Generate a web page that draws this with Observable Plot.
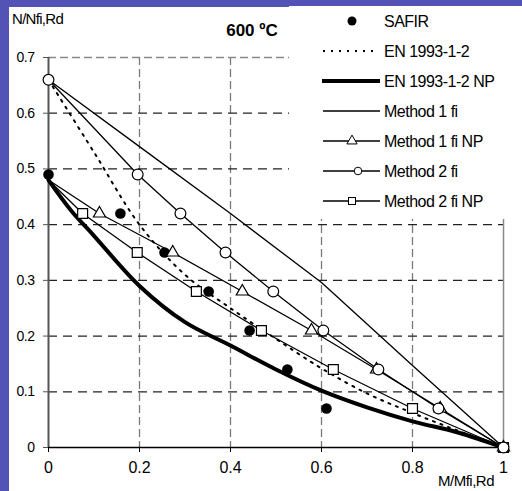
<!DOCTYPE html>
<html><head><meta charset="utf-8">
<script src="https://cdn.jsdelivr.net/npm/d3@7"></script>
<script src="https://cdn.jsdelivr.net/npm/@observablehq/plot@0.6"></script>
<style>
html,body{margin:0;padding:0;background:#5353b5;width:522px;height:491px;overflow:hidden;}
#frame{position:absolute;left:9px;top:7px;width:513px;height:484px;background:#fff;}
#chart{position:absolute;left:0;top:0;}
</style></head><body>
<div id="frame"></div><div id="chart"></div>
<script>
// ---- data ----
const xTicks = [0, 0.2, 0.4, 0.6, 0.8, 1];
const xTickLabels = ["0", "0.2", "0.4", "0.6", "0.8", "1"];
const yTicks = [0, 0.1, 0.2, 0.3, 0.4, 0.5, 0.6, 0.7];
const yTickLabels = ["0", "0.1", "0.2", "0.3", "0.4", "0.5", "0.6", "0.7"];
const seriesNames = ["SAFIR", "EN 1993-1-2", "EN 1993-1-2 NP", "Method 1 fi", "Method 1 fi NP", "Method 2 fi", "Method 2 fi NP"];
const titleText = "600 ºC";
const yLabel = "N/Nfi,Rd";
const xLabel = "M/Mfi,Rd";

const safirX = [0, 0.158, 0.255, 0.352, 0.442, 0.525, 0.611];
const safirY = [0.49, 0.42, 0.35, 0.28, 0.21, 0.14, 0.07];

const enX = [0, 0.1, 0.2, 0.3, 0.4, 0.5, 0.6, 0.7, 0.8, 0.9, 1];
const enY = [0.66, 0.53, 0.40, 0.31, 0.25, 0.195, 0.142, 0.097, 0.062, 0.03, 0];

const enNpX = [0, 0.05, 0.1, 0.2, 0.3, 0.4, 0.5, 0.6, 0.7, 0.8, 0.9, 1];
const enNpY = [0.48, 0.425, 0.38, 0.29, 0.225, 0.183, 0.14, 0.102, 0.072, 0.047, 0.027, 0];

const m1X = [0, 0.2, 0.4, 0.6, 0.8, 1];
const m1Y = [0.66, 0.54, 0.42, 0.296, 0.147, 0];

const m1npX = [0, 0.112, 0.273, 0.426, 0.578, 0.721, 0.861, 1];
const m1npY = [0.48, 0.42, 0.35, 0.28, 0.21, 0.14, 0.07, 0];

const m2X = [0, 0.196, 0.29, 0.389, 0.494, 0.604, 0.725, 0.857, 1];
const m2Y = [0.66, 0.49, 0.42, 0.35, 0.28, 0.21, 0.14, 0.07, 0];

const m2npX = [0, 0.075, 0.195, 0.325, 0.468, 0.626, 0.8, 1];
const m2npY = [0.48, 0.42, 0.35, 0.28, 0.21, 0.14, 0.07, 0];

// ---- build ----
const rows = (xs, ys) => xs.map((x, i) => ({x, y: ys[i]}));
const safir = rows(safirX, safirY);
const en = rows(enX, enY);
const enNp = rows(enNpX, enNpY);
const m1 = rows(m1X, m1Y);
const m1np = rows(m1npX, m1npY);
const m2 = rows(m2X, m2Y);
const m2np = rows(m2npX, m2npY);

const FONT = "'Liberation Sans', Arial, sans-serif";
const thin = {x: "x", y: "y", stroke: "#000", strokeWidth: 1.3};

const plot = Plot.plot({
  width: 522, height: 491,
  marginTop: 57, marginRight: 19, marginBottom: 44, marginLeft: 48,
  x: {domain: [0, 1]},
  y: {domain: [0, 0.7]},
  style: {background: "transparent", fontFamily: FONT, color: "#000"},
  marks: [
    Plot.gridX(xTicks.filter(v => v > 0 && v < 1), {stroke: "#7a7a7a", strokeOpacity: 1, strokeDasharray: "8,4", strokeWidth: 1.3}),
    Plot.gridY(yTicks.filter(v => v > 0 && v < 0.7), {stroke: "#222", strokeOpacity: 1, strokeDasharray: "9,6", strokeWidth: 1.2}),
    Plot.gridY([0.7], {stroke: "#888", strokeOpacity: 1, strokeDasharray: "8,4", strokeWidth: 1.3}),
    Plot.ruleX([1], {stroke: "#8a8a8a", strokeWidth: 1.5}),
    Plot.ruleX([0], {stroke: "#555", strokeWidth: 2}),
    Plot.ruleY([0], {stroke: "#000", strokeWidth: 1.5}),
    Plot.axisX({ticks: xTicks, tickFormat: d => xTickLabels[xTicks.indexOf(d)], tickSize: 5, tickPadding: 9, fontSize: 16, stroke: "#000", label: null}),
    Plot.axisY({ticks: yTicks, tickFormat: d => yTickLabels[yTicks.indexOf(d)], tickSize: 5, tickPadding: 9, fontSize: 14, stroke: "#555", label: null}),
    Plot.line(m1, thin),
    Plot.line(m1np, thin),
    Plot.line(m2, thin),
    Plot.line(m2np, thin),
    Plot.line(en, {x: "x", y: "y", stroke: "#000", strokeWidth: 2, strokeDasharray: "2,6", curve: "catmull-rom"}),
    Plot.line(enNp, {x: "x", y: "y", stroke: "#000", strokeWidth: 4, curve: "catmull-rom"}),
    Plot.dot(m2np.slice(1), {x: "x", y: "y", symbol: "square", r: 5.6, fill: "#fff", stroke: "#000", strokeWidth: 1.2}),
    Plot.dot(safir, {x: "x", y: "y", r: 5.3, fill: "#000", stroke: "none"}),
    Plot.dot(m1np.slice(1), {x: "x", y: "y", symbol: "triangle", r: 4.5, fill: "#fff", stroke: "#000", strokeWidth: 1.2}),
    Plot.dot(m2, {x: "x", y: "y", r: 5.4, fill: "#fff", stroke: "#000", strokeWidth: 1.2})
  ]
});
document.getElementById("chart").appendChild(plot);

const svg = d3.select(plot);
svg.selectAll("g[aria-label='y-axis tick label']").style("letter-spacing", "-0.5px");

// title & axis labels
svg.append("text").attr("x", 252).attr("y", 36).attr("text-anchor", "middle")
  .style("font", `bold 17px ${FONT}`).text(titleText);
svg.append("text").attr("x", 12).attr("y", 24).attr("text-anchor", "start")
  .style("font", `15px ${FONT}`).style("letter-spacing", "-0.7px").text(yLabel);
svg.append("text").attr("x", 494).attr("y", 486).attr("text-anchor", "end")
  .style("font", `15px ${FONT}`).style("letter-spacing", "-0.5px").text(xLabel);

// legend
const lg = svg.append("g");
lg.append("rect").attr("x", 289).attr("y", 6).attr("width", 233).attr("height", 213).attr("fill", "#fff");
const x0 = 323, x1 = 380, xm = 352, xt = 384;
seriesNames.forEach((name, i) => {
  const cy = 21 + i * 30;
  const g = lg.append("g");
  if (i === 0) {
    g.append("circle").attr("cx", xm).attr("cy", cy).attr("r", 4.5).attr("fill", "#000");
  } else if (i === 1) {
    g.append("line").attr("x1", x0).attr("x2", x1 - 4).attr("y1", cy).attr("y2", cy)
      .attr("stroke", "#000").attr("stroke-width", 2).attr("stroke-dasharray", "2,6");
  } else if (i === 2) {
    g.append("line").attr("x1", x0 - 1).attr("x2", x1).attr("y1", cy).attr("y2", cy)
      .attr("stroke", "#000").attr("stroke-width", 4);
  } else {
    g.append("line").attr("x1", x0).attr("x2", x1).attr("y1", cy).attr("y2", cy)
      .attr("stroke", "#000").attr("stroke-width", 1.3);
    if (i === 4) g.append("path").attr("d", d3.symbol(d3.symbolTriangle, 45)()).attr("transform", `translate(${xm},${cy})`)
      .attr("fill", "#fff").attr("stroke", "#000").attr("stroke-width", 1);
    if (i === 5) g.append("circle").attr("cx", xm + 6).attr("cy", cy).attr("r", 3.8).attr("fill", "#fff").attr("stroke", "#000");
    if (i === 6) g.append("rect").attr("x", xm - 3.5).attr("y", cy - 3.5).attr("width", 7).attr("height", 7).attr("fill", "#fff").attr("stroke", "#000");
  }
  g.append("text").attr("x", xt).attr("y", cy + 6).attr("text-anchor", "start")
    .style("font", `16px ${FONT}`).style("letter-spacing", "-0.5px").text(name);
});
</script>
</body></html>
